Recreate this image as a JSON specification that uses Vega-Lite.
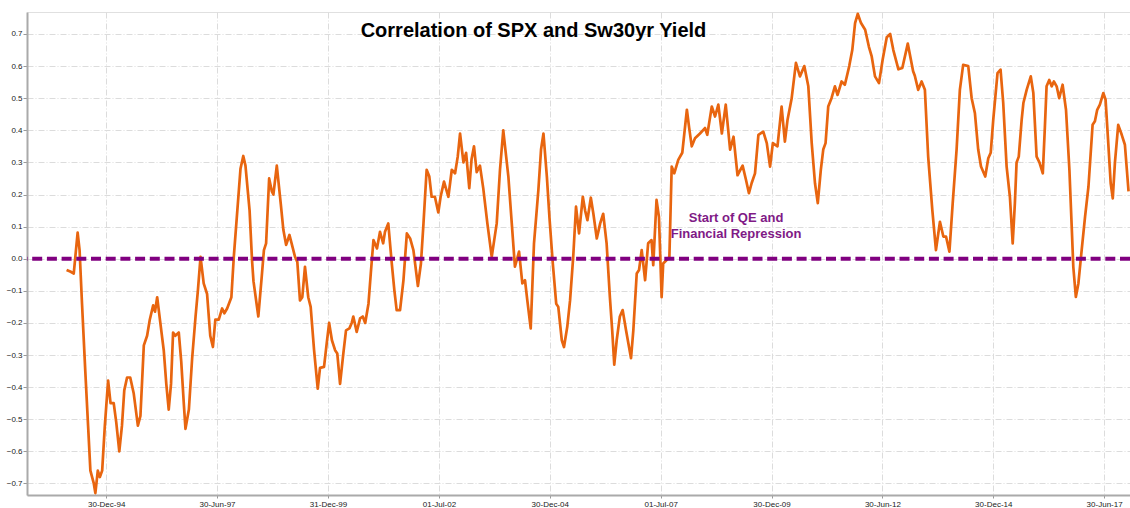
{
  "$schema": "https://vega.github.io/schema/vega-lite/v6.json",
  "width": 1103,
  "height": 483,
  "autosize": {"type": "none"},
  "padding": {"left": 27, "top": 12, "right": 0, "bottom": 13},
  "background": "white",
  "title": {"text": "Correlation of SPX and Sw30yr Yield", "font": "Liberation Sans", "fontSize": 20, "fontWeight": "bold", "color": "#000000", "anchor": "middle", "dx": -45, "offset": -45, "baseline": "alphabetic"},
  "config": {
    "view": {"stroke": "#e0e0e0"},
    "axis": {"labelOverlap": false, "labelSeparation": 0, "title": null, "labelFont": "Liberation Sans", "labelFontSize": 8, "labelColor": "#222222", "tickColor": "#999999", "domainColor": "#aaaaaa", "domainWidth": 2, "grid": true, "gridColor": "#dcdcdc", "gridDash": [6, 2, 1, 2]},
    "axisX": {"labelPadding": 2, "tickSize": 3, "labelFlush": false},
    "axisY": {"labelPadding": 1, "tickSize": 4}
  },
  "layer": [
    {
      "data": {"values": [
        {"d":"1994-02-07","v":-0.035},{"d":"1994-03-09","v":-0.04},{"d":"1994-04-07","v":-0.046},{"d":"1994-04-20","v":0.006},{"d":"1994-05-09","v":0.081},{"d":"1994-05-25","v":0.027},{"d":"1994-06-14","v":-0.14},{"d":"1994-07-11","v":-0.35},{"d":"1994-08-03","v":-0.52},{"d":"1994-08-22","v":-0.66},{"d":"1994-09-19","v":-0.70},{"d":"1994-10-02","v":-0.73},{"d":"1994-10-22","v":-0.66},{"d":"1994-11-08","v":-0.68},{"d":"1994-11-27","v":-0.66},{"d":"1994-12-19","v":-0.52},
        {"d":"1995-01-15","v":-0.38},{"d":"1995-02-04","v":-0.45},{"d":"1995-03-02","v":-0.45},{"d":"1995-03-23","v":-0.51},{"d":"1995-04-17","v":-0.60},{"d":"1995-05-09","v":-0.52},{"d":"1995-05-28","v":-0.41},{"d":"1995-06-20","v":-0.37},{"d":"1995-07-16","v":-0.37},{"d":"1995-08-14","v":-0.42},{"d":"1995-09-17","v":-0.52},{"d":"1995-10-08","v":-0.49},{"d":"1995-11-05","v":-0.27},{"d":"1995-12-02","v":-0.24},{"d":"1995-12-24","v":-0.19},
        {"d":"1996-01-21","v":-0.145},{"d":"1996-02-05","v":-0.165},{"d":"1996-02-23","v":-0.12},{"d":"1996-03-20","v":-0.20},{"d":"1996-04-17","v":-0.285},{"d":"1996-05-08","v":-0.39},{"d":"1996-05-28","v":-0.47},{"d":"1996-06-16","v":-0.39},{"d":"1996-07-03","v":-0.23},{"d":"1996-07-21","v":-0.24},{"d":"1996-08-19","v":-0.23},{"d":"1996-09-08","v":-0.32},{"d":"1996-09-29","v":-0.45},{"d":"1996-10-13","v":-0.53},{"d":"1996-11-10","v":-0.47},{"d":"1996-12-07","v":-0.31},
        {"d":"1997-01-04","v":-0.18},{"d":"1997-01-23","v":-0.10},{"d":"1997-02-14","v":0.006},{"d":"1997-03-12","v":-0.077},{"d":"1997-04-09","v":-0.11},{"d":"1997-05-05","v":-0.24},{"d":"1997-05-27","v":-0.275},{"d":"1997-06-16","v":-0.19},{"d":"1997-07-14","v":-0.19},{"d":"1997-08-11","v":-0.155},{"d":"1997-08-29","v":-0.17},{"d":"1997-09-21","v":-0.155},{"d":"1997-10-26","v":-0.12},{"d":"1997-11-15","v":0.006},{"d":"1997-12-18","v":0.17},
        {"d":"1998-01-09","v":0.28},{"d":"1998-02-01","v":0.32},{"d":"1998-02-19","v":0.29},{"d":"1998-03-25","v":0.15},{"d":"1998-04-14","v":-0.004},{"d":"1998-04-26","v":-0.07},{"d":"1998-06-05","v":-0.18},{"d":"1998-07-03","v":-0.056},{"d":"1998-07-21","v":0.027},{"d":"1998-08-08","v":0.048},{"d":"1998-09-02","v":0.25},{"d":"1998-09-24","v":0.21},{"d":"1998-10-07","v":0.20},{"d":"1998-11-04","v":0.29},{"d":"1998-12-07","v":0.17},{"d":"1998-12-28","v":0.09},
        {"d":"1999-01-20","v":0.043},{"d":"1999-02-16","v":0.074},{"d":"1999-03-06","v":0.048},{"d":"1999-04-03","v":0.006},{"d":"1999-04-22","v":-0.01},{"d":"1999-05-14","v":-0.13},{"d":"1999-06-02","v":-0.12},{"d":"1999-06-24","v":-0.025},{"d":"1999-07-21","v":-0.12},{"d":"1999-08-10","v":-0.15},{"d":"1999-09-07","v":-0.285},{"d":"1999-10-07","v":-0.405},{"d":"1999-10-26","v":-0.34},{"d":"1999-11-28","v":-0.337},{"d":"1999-12-20","v":-0.264},
        {"d":"2000-01-09","v":-0.20},{"d":"2000-02-01","v":-0.254},{"d":"2000-02-27","v":-0.285},{"d":"2000-03-16","v":-0.295},{"d":"2000-04-08","v":-0.39},{"d":"2000-05-05","v":-0.295},{"d":"2000-05-27","v":-0.223},{"d":"2000-06-24","v":-0.217},{"d":"2000-07-13","v":-0.20},{"d":"2000-07-26","v":-0.18},{"d":"2000-08-23","v":-0.228},{"d":"2000-09-20","v":-0.186},{"d":"2000-10-12","v":-0.18},{"d":"2000-11-01","v":-0.20},{"d":"2000-11-28","v":-0.14},{"d":"2000-12-17","v":-0.046},
        {"d":"2001-01-08","v":0.058},{"d":"2001-02-06","v":0.032},{"d":"2001-03-03","v":0.084},{"d":"2001-03-29","v":0.048},{"d":"2001-04-13","v":0.084},{"d":"2001-05-10","v":0.11},{"d":"2001-06-08","v":-0.015},{"d":"2001-06-29","v":-0.098},{"d":"2001-07-18","v":-0.16},{"d":"2001-08-15","v":-0.16},{"d":"2001-09-12","v":-0.067},{"d":"2001-10-10","v":0.079},{"d":"2001-11-06","v":0.063},{"d":"2001-12-03","v":0.027},
        {"d":"2002-01-09","v":-0.085},{"d":"2002-02-03","v":-0.015},{"d":"2002-02-24","v":0.11},{"d":"2002-03-22","v":0.277},{"d":"2002-04-13","v":0.256},{"d":"2002-05-02","v":0.193},{"d":"2002-05-29","v":0.193},{"d":"2002-06-26","v":0.144},{"d":"2002-07-15","v":0.193},{"d":"2002-08-12","v":0.24},{"d":"2002-09-17","v":0.193},{"d":"2002-10-15","v":0.277},{"d":"2002-11-11","v":0.266},{"d":"2002-12-03","v":0.318},{"d":"2002-12-22","v":0.39},
        {"d":"2003-01-19","v":0.30},{"d":"2003-02-10","v":0.33},{"d":"2003-03-08","v":0.22},{"d":"2003-03-27","v":0.31},{"d":"2003-04-16","v":0.35},{"d":"2003-05-08","v":0.27},{"d":"2003-06-04","v":0.29},{"d":"2003-07-01","v":0.22},{"d":"2003-08-04","v":0.11},{"d":"2003-09-09","v":0.006},{"d":"2003-10-20","v":0.11},{"d":"2003-11-16","v":0.277},{"d":"2003-12-13","v":0.40},
        {"d":"2004-01-24","v":0.256},{"d":"2004-02-21","v":0.11},{"d":"2004-03-18","v":-0.025},{"d":"2004-04-21","v":0.022},{"d":"2004-05-18","v":-0.077},{"d":"2004-06-09","v":-0.067},{"d":"2004-06-28","v":-0.13},{"d":"2004-07-26","v":-0.217},{"d":"2004-08-22","v":0.048},{"d":"2004-09-09","v":0.13},{"d":"2004-09-27","v":0.214},{"d":"2004-10-19","v":0.34},{"d":"2004-11-08","v":0.39},{"d":"2004-12-06","v":0.256},{"d":"2004-12-27","v":0.13},
        {"d":"2005-01-24","v":-0.015},{"d":"2005-02-21","v":-0.14},{"d":"2005-03-10","v":-0.15},{"d":"2005-04-08","v":-0.254},{"d":"2005-04-26","v":-0.275},{"d":"2005-05-23","v":-0.212},{"d":"2005-06-15","v":-0.13},{"d":"2005-07-11","v":0.006},{"d":"2005-08-03","v":0.162},{"d":"2005-08-28","v":0.079},{"d":"2005-09-28","v":0.193},{"d":"2005-10-17","v":0.15},{"d":"2005-11-05","v":0.12},{"d":"2005-12-03","v":0.19},{"d":"2005-12-24","v":0.14},
        {"d":"2006-01-21","v":0.063},{"d":"2006-02-18","v":0.11},{"d":"2006-03-15","v":0.14},{"d":"2006-04-12","v":0.048},{"d":"2006-05-09","v":-0.12},{"d":"2006-05-28","v":-0.223},{"d":"2006-06-14","v":-0.33},{"d":"2006-07-04","v":-0.254},{"d":"2006-07-30","v":-0.18},{"d":"2006-08-22","v":-0.16},{"d":"2006-09-19","v":-0.223},{"d":"2006-10-30","v":-0.31},{"d":"2006-11-18","v":-0.223},{"d":"2006-12-16","v":-0.046},
        {"d":"2007-01-04","v":-0.035},{"d":"2007-01-26","v":0.027},{"d":"2007-02-23","v":-0.067},{"d":"2007-03-20","v":0.048},{"d":"2007-04-17","v":0.058},{"d":"2007-05-01","v":-0.02},{"d":"2007-05-28","v":0.183},{"d":"2007-06-17","v":0.13},{"d":"2007-07-09","v":-0.12},{"d":"2007-07-22","v":-0.015},{"d":"2007-08-19","v":-0.004},{"d":"2007-09-11","v":0.006},{"d":"2007-09-30","v":0.287},{"d":"2007-10-21","v":0.266},{"d":"2007-11-23","v":0.308},{"d":"2007-12-26","v":0.33},
        {"d":"2008-01-12","v":0.39},{"d":"2008-02-02","v":0.464},{"d":"2008-02-20","v":0.41},{"d":"2008-03-13","v":0.35},{"d":"2008-04-09","v":0.375},{"d":"2008-05-20","v":0.39},{"d":"2008-06-30","v":0.407},{"d":"2008-07-19","v":0.386},{"d":"2008-08-25","v":0.474},{"d":"2008-09-21","v":0.443},{"d":"2008-10-18","v":0.48},{"d":"2008-11-16","v":0.39},{"d":"2008-12-18","v":0.48},
        {"d":"2009-01-23","v":0.34},{"d":"2009-02-20","v":0.38},{"d":"2009-03-25","v":0.26},{"d":"2009-05-06","v":0.29},{"d":"2009-06-03","v":0.245},{"d":"2009-06-27","v":0.204},{"d":"2009-07-19","v":0.235},{"d":"2009-08-16","v":0.266},{"d":"2009-09-13","v":0.386},{"d":"2009-10-23","v":0.396},{"d":"2009-11-21","v":0.36},{"d":"2009-12-18","v":0.287},
        {"d":"2010-01-10","v":0.36},{"d":"2010-02-17","v":0.35},{"d":"2010-03-23","v":0.474},{"d":"2010-04-19","v":0.365},{"d":"2010-05-11","v":0.433},{"d":"2010-06-14","v":0.50},{"d":"2010-07-19","v":0.61},{"d":"2010-08-21","v":0.568},{"d":"2010-09-26","v":0.60},{"d":"2010-10-29","v":0.537},{"d":"2010-11-26","v":0.36},{"d":"2010-12-23","v":0.235},
        {"d":"2011-01-15","v":0.173},{"d":"2011-02-09","v":0.277},{"d":"2011-03-01","v":0.34},{"d":"2011-03-20","v":0.36},{"d":"2011-04-11","v":0.474},{"d":"2011-05-08","v":0.50},{"d":"2011-06-05","v":0.537},{"d":"2011-06-27","v":0.51},{"d":"2011-07-30","v":0.552},{"d":"2011-08-26","v":0.542},{"d":"2011-10-01","v":0.60},{"d":"2011-10-26","v":0.65},{"d":"2011-11-18","v":0.734},{"d":"2011-12-10","v":0.763},
        {"d":"2012-01-06","v":0.734},{"d":"2012-02-09","v":0.713},{"d":"2012-03-11","v":0.66},{"d":"2012-04-03","v":0.63},{"d":"2012-04-30","v":0.568},{"d":"2012-06-02","v":0.547},{"d":"2012-07-02","v":0.62},{"d":"2012-08-05","v":0.69},{"d":"2012-09-02","v":0.70},{"d":"2012-09-28","v":0.65},{"d":"2012-11-09","v":0.59},{"d":"2012-12-11","v":0.594},
        {"d":"2013-01-25","v":0.67},{"d":"2013-03-10","v":0.584},{"d":"2013-03-24","v":0.57},{"d":"2013-04-21","v":0.526},{"d":"2013-05-19","v":0.552},{"d":"2013-06-15","v":0.526},{"d":"2013-07-12","v":0.318},{"d":"2013-08-15","v":0.152},{"d":"2013-09-14","v":0.027},{"d":"2013-10-17","v":0.115},{"d":"2013-11-14","v":0.069},{"d":"2013-12-06","v":0.069},
        {"d":"2014-01-03","v":0.022},{"d":"2014-01-30","v":0.173},{"d":"2014-03-03","v":0.34},{"d":"2014-03-30","v":0.526},{"d":"2014-04-26","v":0.604},{"d":"2014-06-07","v":0.60},{"d":"2014-07-05","v":0.50},{"d":"2014-08-01","v":0.453},{"d":"2014-08-28","v":0.34},{"d":"2014-09-20","v":0.287},{"d":"2014-10-25","v":0.256},{"d":"2014-11-19","v":0.313},{"d":"2014-12-09","v":0.33},{"d":"2014-12-30","v":0.433},
        {"d":"2015-02-03","v":0.578},{"d":"2015-02-28","v":0.589},{"d":"2015-03-22","v":0.485},{"d":"2015-04-19","v":0.287},{"d":"2015-05-16","v":0.193},{"d":"2015-06-08","v":0.048},{"d":"2015-06-26","v":0.173},{"d":"2015-07-10","v":0.30},{"d":"2015-07-28","v":0.318},{"d":"2015-08-21","v":0.433},{"d":"2015-09-04","v":0.485},{"d":"2015-10-01","v":0.526},{"d":"2015-11-04","v":0.568},{"d":"2015-11-25","v":0.516},{"d":"2015-12-22","v":0.318},
        {"d":"2016-01-14","v":0.30},{"d":"2016-02-11","v":0.266},{"d":"2016-02-28","v":0.41},{"d":"2016-03-13","v":0.537},{"d":"2016-04-04","v":0.557},{"d":"2016-04-24","v":0.537},{"d":"2016-05-12","v":0.552},{"d":"2016-06-04","v":0.537},{"d":"2016-06-25","v":0.50},{"d":"2016-07-23","v":0.542},{"d":"2016-08-20","v":0.464},{"d":"2016-09-17","v":0.277},{"d":"2016-10-06","v":0.10},{"d":"2016-10-19","v":-0.025},{"d":"2016-11-09","v":-0.119},{"d":"2016-11-30","v":-0.077},{"d":"2016-12-27","v":0.027},
        {"d":"2017-01-24","v":0.131},{"d":"2017-02-21","v":0.225},{"d":"2017-03-27","v":0.417},{"d":"2017-04-15","v":0.428},{"d":"2017-05-04","v":0.464},{"d":"2017-05-26","v":0.48},{"d":"2017-06-23","v":0.516},{"d":"2017-07-12","v":0.495},{"d":"2017-08-03","v":0.36},{"d":"2017-08-23","v":0.235},{"d":"2017-09-09","v":0.188},{"d":"2017-09-27","v":0.30},{"d":"2017-10-24","v":0.417},{"d":"2017-11-22","v":0.386},{"d":"2017-12-18","v":0.355},{"d":"2018-01-17","v":0.21}
      ]},
      "mark": {"type": "line", "color": "#E8650F", "strokeWidth": 2.7, "strokeJoin": "round"},
      "encoding": {
        "x": {"field": "d", "type": "temporal",
          "scale": {"domain": [{"year": 1993, "month": 3, "date": 18}, {"year": 2018, "month": 1, "date": 29}]},
          "axis": {"format": "%d-%b-%y",
            "values": [{"year":1994,"month":12,"date":30},{"year":1997,"month":6,"date":30},{"year":1999,"month":12,"date":31},{"year":2002,"month":7,"date":1},{"year":2004,"month":12,"date":30},{"year":2007,"month":7,"date":1},{"year":2009,"month":12,"date":30},{"year":2012,"month":6,"date":30},{"year":2014,"month":12,"date":30},{"year":2017,"month":6,"date":30}]}},
        "y": {"field": "v", "type": "quantitative",
          "scale": {"domain": [-0.736, 0.7685], "nice": false, "zero": false},
          "axis": {"format": ".1f", "values": [-0.7, -0.6, -0.5, -0.4, -0.3, -0.2, -0.1, 0, 0.1, 0.2, 0.3, 0.4, 0.5, 0.6, 0.7]}}
      }
    },
    {
      "data": {"values": [{"v": 0}]},
      "mark": {"type": "rule", "color": "#800080", "strokeWidth": 4, "strokeDash": [10, 4.7]},
      "encoding": {"y": {"field": "v", "type": "quantitative",
        "axis": {"format": ".1f", "values": [-0.7, -0.6, -0.5, -0.4, -0.3, -0.2, -0.1, 0, 0.1, 0.2, 0.3, 0.4, 0.5, 0.6, 0.7]}}}
    },
    {
      "data": {"values": [{"d": "2009-03-13", "v": 0.128, "label": "Start of QE and\nFinancial Repression"}]},
      "mark": {"type": "text", "lineBreak": "\n", "font": "Liberation Sans", "fontSize": 13, "fontWeight": "bold", "color": "#801a86", "align": "center", "baseline": "middle", "lineHeight": 16},
      "encoding": {
        "x": {"field": "d", "type": "temporal",
          "axis": {"format": "%d-%b-%y",
            "values": [{"year":1994,"month":12,"date":30},{"year":1997,"month":6,"date":30},{"year":1999,"month":12,"date":31},{"year":2002,"month":7,"date":1},{"year":2004,"month":12,"date":30},{"year":2007,"month":7,"date":1},{"year":2009,"month":12,"date":30},{"year":2012,"month":6,"date":30},{"year":2014,"month":12,"date":30},{"year":2017,"month":6,"date":30}]}},
        "y": {"field": "v", "type": "quantitative",
          "axis": {"format": ".1f", "values": [-0.7, -0.6, -0.5, -0.4, -0.3, -0.2, -0.1, 0, 0.1, 0.2, 0.3, 0.4, 0.5, 0.6, 0.7]}},
        "text": {"field": "label"}
      }
    }
  ]
}
